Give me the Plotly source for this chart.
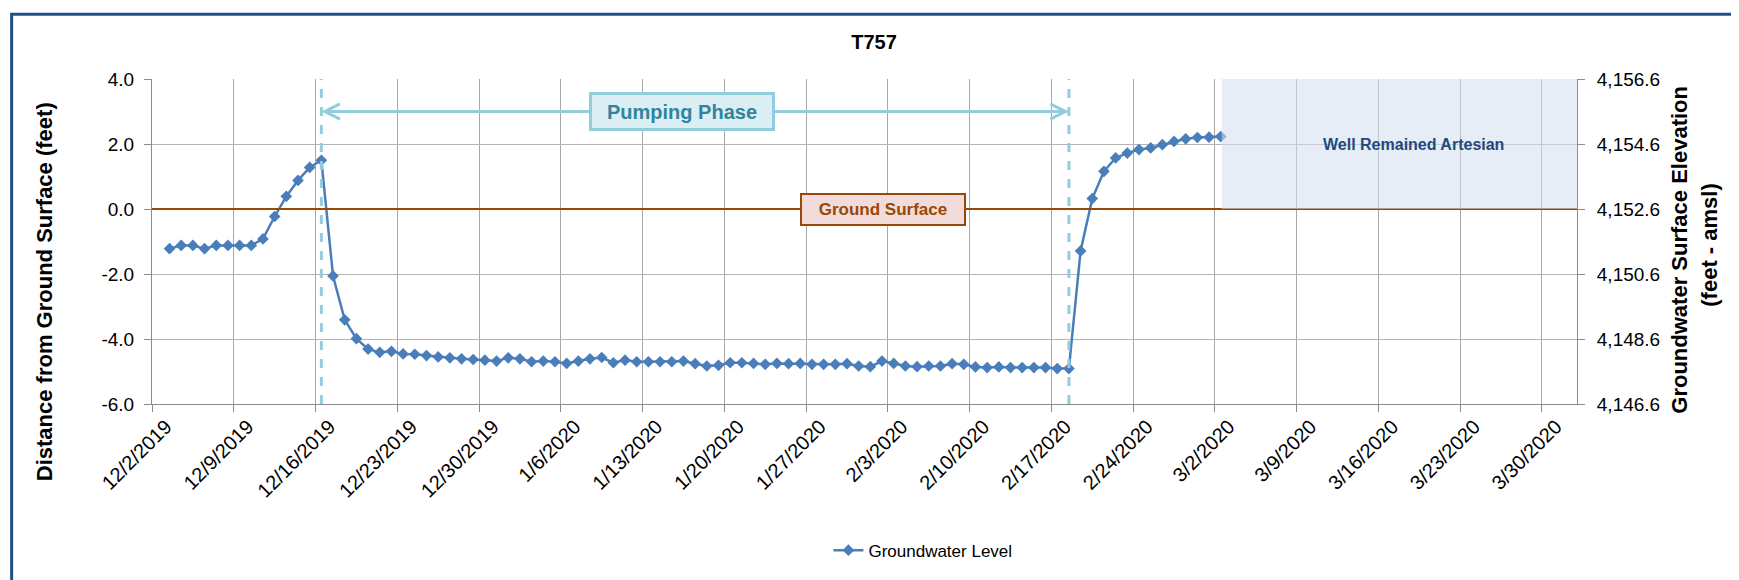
"""Groundwater level chart for well T757 (Plotly)."""

import pandas as pd
import plotly.graph_objects as go

# daily readings, distance from ground surface (feet), 12/3/2019 .. 3/2/2020
FIRST_READING = "2019-12-03 12:00"
LEVEL_FT = [
    -1.22, -1.12, -1.12, -1.22, -1.12, -1.12, -1.12, -1.12, -0.92, -0.23,
    0.39, 0.88, 1.28, 1.50, -2.06, -3.41, -3.99, -4.31, -4.41, -4.38,
    -4.46, -4.47, -4.51, -4.55, -4.58, -4.61, -4.63, -4.65, -4.68,
    # January
    -4.58, -4.61, -4.70, -4.68, -4.70, -4.75, -4.68, -4.61, -4.57, -4.73,
    -4.65, -4.70, -4.70, -4.70, -4.70, -4.68, -4.76, -4.83, -4.81, -4.73,
    -4.73, -4.75, -4.78, -4.75, -4.76, -4.75, -4.78, -4.78, -4.78, -4.76,
    -4.83,
    # February
    -4.85, -4.68, -4.75, -4.83, -4.85, -4.83, -4.83, -4.76, -4.78, -4.86,
    -4.88, -4.86, -4.88, -4.88, -4.88, -4.88, -4.91, -4.91, -1.29, 0.32,
    1.16, 1.57, 1.72, 1.83, 1.88, 1.98, 2.08, 2.16, 2.20,
    # March
    2.21, 2.23,
]
DATES = pd.date_range(FIRST_READING, periods=len(LEVEL_FT), freq="D")

GROUND_ELEV = 4152.6  # feet amsl

TICK_DATES = [
    "2019-12-02", "2019-12-09", "2019-12-16", "2019-12-23", "2019-12-30",
    "2020-01-06", "2020-01-13", "2020-01-20", "2020-01-27", "2020-02-03",
    "2020-02-10", "2020-02-17", "2020-02-24", "2020-03-02", "2020-03-09",
    "2020-03-16", "2020-03-23", "2020-03-30",
]
TICK_LABELS = [
    "12/2/2019", "12/9/2019", "12/16/2019", "12/23/2019", "12/30/2019",
    "1/6/2020", "1/13/2020", "1/20/2020", "1/27/2020", "2/3/2020",
    "2/10/2020", "2/17/2020", "2/24/2020", "3/2/2020", "3/9/2020",
    "3/16/2020", "3/23/2020", "3/30/2020",
]
X_RANGE = ["2019-12-02", "2020-04-02"]

Y_TICKS = [4, 2, 0, -2, -4, -6]
Y_LABELS = ["4.0", "2.0", "0.0", "-2.0", "-4.0", "-6.0"]
Y2_TICKS = [GROUND_ELEV + v for v in Y_TICKS]

PUMP_START = "2019-12-16 12:00"
PUMP_END = "2020-02-18 12:00"
PUMP_MID = "2020-01-17"
ARTESIAN_START = "2020-03-02 14:00"

FONT = "Liberation Sans, Arial, sans-serif"
LINE_BLUE = "#4A7EBB"
PUMP_BLUE = "#93CDDD"
BROWN = "#984807"
GRID = "#B4B4B4"
AXIS = "#8C8C8C"

fig = go.Figure()

fig.add_trace(go.Scatter(
    name="Groundwater Level",
    x=DATES,
    y=LEVEL_FT,
    mode="lines+markers",
    line=dict(color=LINE_BLUE, width=2.5),
    marker=dict(symbol="diamond", size=9, color=LINE_BLUE),
))

# empty trace so the elevation axis is drawn
fig.add_trace(go.Scatter(x=[], y=[], yaxis="y2", showlegend=False, hoverinfo="skip"))

shapes = [
    # ground surface
    dict(type="line", xref="x domain", yref="y", x0=0, x1=1, y0=0, y1=0,
         line=dict(color=BROWN, width=2), layer="above"),
    # artesian period
    dict(type="rect", xref="x", yref="y", x0=ARTESIAN_START, x1=X_RANGE[1], y0=0, y1=4,
         fillcolor="rgba(212,222,238,0.55)", line=dict(width=0), layer="above"),
    # outer frame
    dict(type="rect", xref="paper", yref="paper", x0=-0.0985, x1=1.1095, y0=-0.75, y1=1.1994,
         line=dict(color="#1F4E8A", width=3), layer="above"),
]
for d in [PUMP_START, PUMP_END]:
    shapes.append(dict(type="line", xref="x", yref="y", x0=d, x1=d, y0=-6, y1=4,
                       line=dict(color=PUMP_BLUE, width=3, dash="dash"), layer="above"))

annotations = [
    dict(x=PUMP_START, y=3, ax=PUMP_MID, ay=3, xref="x", yref="y", axref="x", ayref="y",
         text="", showarrow=True, arrowhead=5, arrowsize=1, arrowwidth=3, arrowcolor=PUMP_BLUE),
    dict(x=PUMP_END, y=3, ax=PUMP_MID, ay=3, xref="x", yref="y", axref="x", ayref="y",
         text="", showarrow=True, arrowhead=5, arrowsize=1, arrowwidth=3, arrowcolor=PUMP_BLUE),
    dict(x="2020-01-16 08:00", y=3, xref="x", yref="y", text="<b>Pumping Phase</b>",
         showarrow=False, width=178, height=31, bgcolor="#DBEEF4", bordercolor=PUMP_BLUE,
         borderwidth=3, font=dict(family=FONT, size=20, color="#31849B")),
    dict(x="2020-02-02 14:00", y=0, xref="x", yref="y", text="<b>Ground Surface</b>",
         showarrow=False, width=160, height=27, bgcolor="#F2DCDB", bordercolor=BROWN,
         borderwidth=2, font=dict(family=FONT, size=17, color=BROWN)),
    dict(x="2020-03-19", y=2, xref="x", yref="y", text="<b>Well Remained Artesian</b>",
         showarrow=False, font=dict(family=FONT, size=16, color="#1F497D")),
    dict(x=-0.0856, y=0.3455, xref="paper", yref="paper", textangle=-90, showarrow=False,
         text="<b>Distance from Ground Surface (feet)</b>",
         font=dict(family=FONT, size=22, color="black")),
    dict(x=1.0825, y=0.475, xref="paper", yref="paper", textangle=-90, showarrow=False,
         text="<b>Groundwater Surface Elevation</b>",
         font=dict(family=FONT, size=22, color="black")),
    dict(x=1.1035, y=0.49, xref="paper", yref="paper", textangle=-90, showarrow=False,
         text="<b>(feet - amsl)</b>",
         font=dict(family=FONT, size=22, color="black")),
]

fig.update_layout(
    width=1739,
    height=580,
    margin=dict(l=144, r=170, t=71, b=184),
    paper_bgcolor="white",
    plot_bgcolor="white",
    showlegend=True,
    font=dict(family=FONT, size=19, color="black"),
    title=dict(text="<b>T757</b>", x=0.498, y=0.9414, xanchor="center", yanchor="middle",
               font=dict(family=FONT, size=20, color="black")),
    xaxis=dict(
        type="date", range=X_RANGE, tickvals=TICK_DATES, ticktext=TICK_LABELS,
        tickangle=-45, ticks="outside", ticklen=7, tickcolor=AXIS,
        tickfont=dict(size=20), ticklabelshift=14, ticklabelstandoff=-5,
        showgrid=True, gridcolor="#A8A8A8", gridwidth=1,
        showline=True, linecolor=AXIS, linewidth=1, zeroline=False,
    ),
    yaxis=dict(
        range=[-6, 4], tickvals=Y_TICKS, ticktext=Y_LABELS,
        ticks="outside", ticklen=7, tickcolor=AXIS, ticklabelstandoff=6,
        showgrid=True, gridcolor=GRID, gridwidth=1,
        showline=True, linecolor=AXIS, linewidth=1, zeroline=False,
    ),
    yaxis2=dict(
        overlaying="y", side="right",
        range=[GROUND_ELEV - 6, GROUND_ELEV + 4], tickvals=Y2_TICKS, tickformat=",.1f",
        ticks="outside", ticklen=7, tickcolor=AXIS, ticklabelstandoff=8,
        showgrid=False, showline=True, linecolor=AXIS, linewidth=1, zeroline=False,
    ),
    legend=dict(orientation="h", x=0.541, y=-0.451, xanchor="center", yanchor="middle",
                font=dict(family=FONT, size=17), bgcolor="rgba(0,0,0,0)"),
    shapes=shapes,
    annotations=annotations,
)

fig.write_html("out.html")
